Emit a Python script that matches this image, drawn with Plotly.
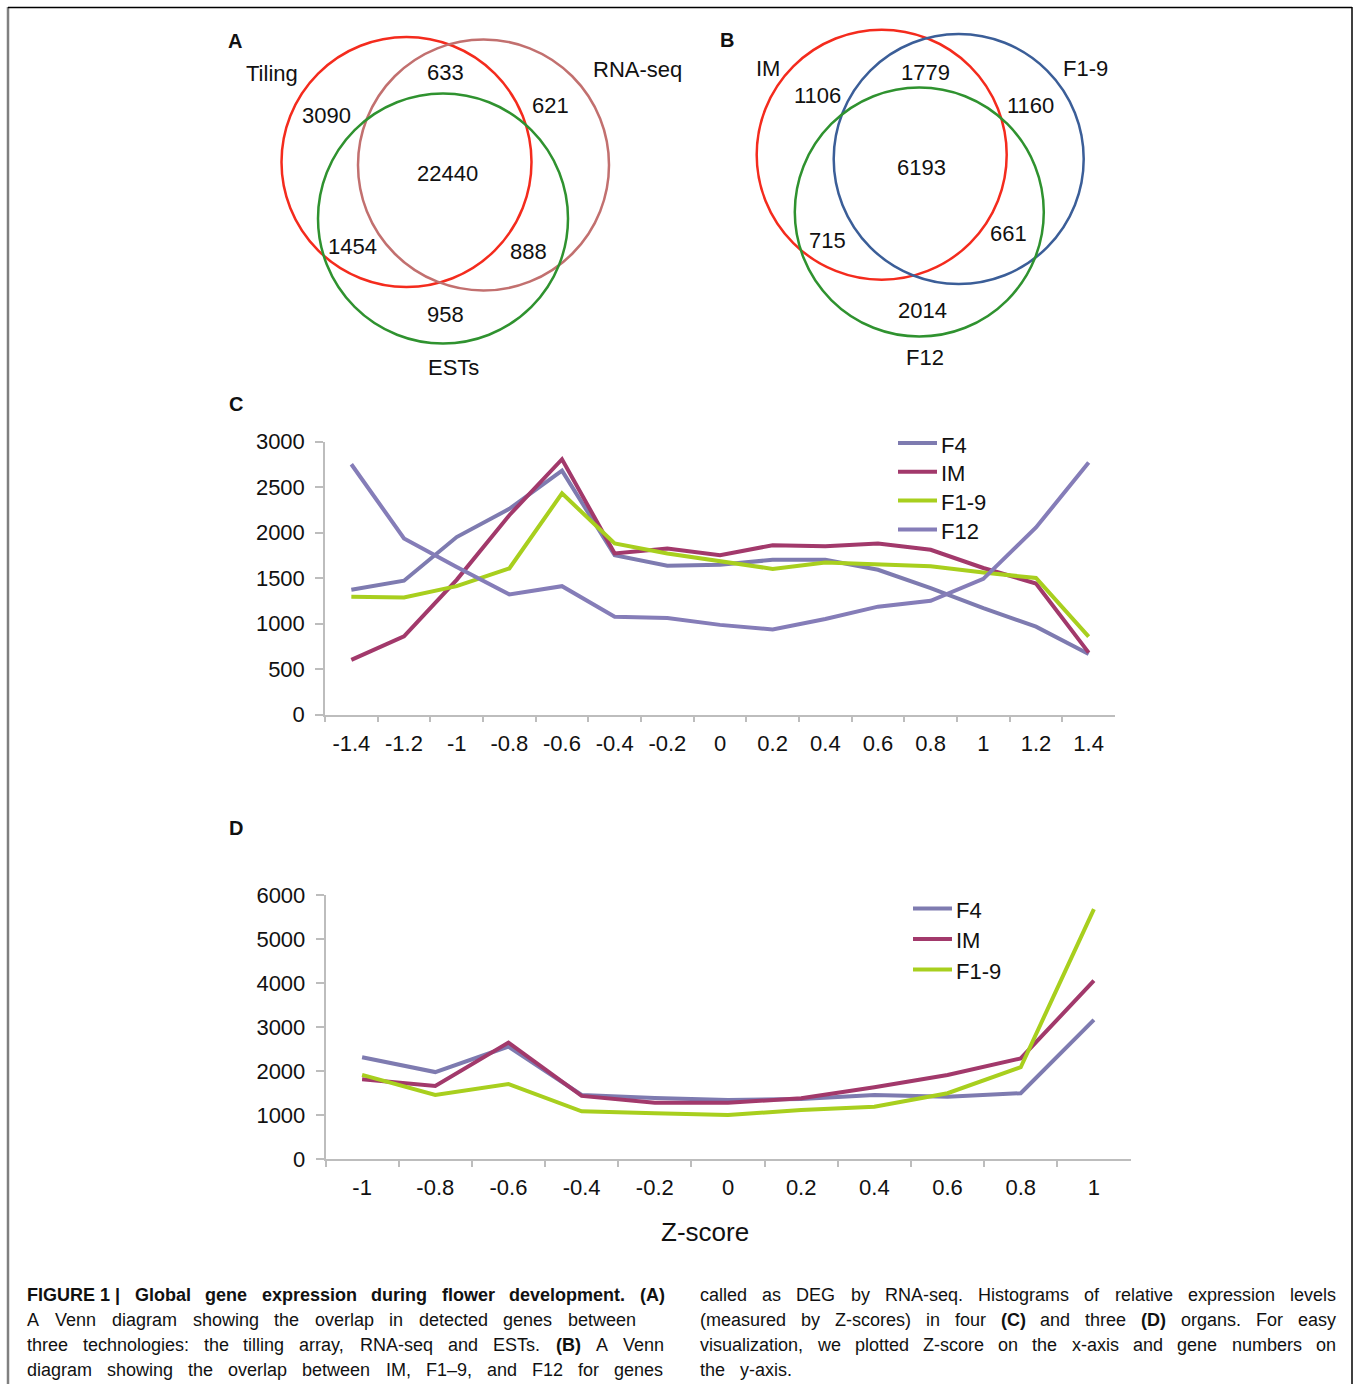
import plotly.graph_objects as go

W, H = 1356, 1384

# ---------------- data ----------------
# Panel C: gene counts per Z-score bin in four organs
z_c = ["-1.4", "-1.2", "-1", "-0.8", "-0.6", "-0.4", "-0.2", "0",
       "0.2", "0.4", "0.6", "0.8", "1", "1.2", "1.4"]
c_f4 = [1370, 1470, 1950, 2260, 2680, 1750, 1635, 1645, 1700, 1700, 1590, 1390, 1170, 965, 665]
c_im = [600, 860, 1480, 2190, 2805, 1770, 1825, 1750, 1860, 1850, 1880, 1810, 1610, 1440, 680]
c_f19 = [1295, 1285, 1410, 1605, 2430, 1880, 1770, 1680, 1600, 1670, 1650, 1630, 1560, 1500, 855]
c_f12 = [2750, 1935, 1620, 1320, 1410, 1075, 1060, 985, 935, 1050, 1185, 1250, 1490, 2055, 2770]

# Panel D: gene counts per Z-score bin in three organs
z_d = ["-1", "-0.8", "-0.6", "-0.4", "-0.2", "0", "0.2", "0.4", "0.6", "0.8", "1"]
d_f4 = [2315, 1980, 2560, 1460, 1390, 1345, 1370, 1460, 1420, 1500, 3165]
d_im = [1815, 1665, 2650, 1440, 1285, 1285, 1385, 1635, 1915, 2290, 4055]
d_f19 = [1915, 1460, 1710, 1090, 1045, 1005, 1120, 1195, 1500, 2090, 5680]

c_ticks_y = [0, 500, 1000, 1500, 2000, 2500, 3000]
d_ticks_y = [0, 1000, 2000, 3000, 4000, 5000, 6000]

# Venn A: Tiling / RNA-seq / ESTs
venn_a_sets = ["Tiling", "RNA-seq", "ESTs"]
# regions: T only, T&R, R only, all, T&E, R&E, E only
venn_a_counts = [3090, 633, 621, 22440, 1454, 888, 958]

# Venn B: IM / F1-9 / F12
venn_b_sets = ["IM", "F1-9", "F12"]
# regions: IM only, IM&F1-9, F1-9 only, all, IM&F12, F1-9&F12, F12 only
venn_b_counts = [1106, 1779, 1160, 6193, 715, 661, 2014]

caption_left = [
    "FIGURE 1 | Global gene expression during flower development. (A)",
    "A Venn diagram showing the overlap in detected genes between",
    "three technologies: the tilling array, RNA-seq and ESTs. (B) A Venn",
    "diagram showing the overlap between IM, F1–9, and F12 for genes",
]
caption_right = [
    "called as DEG by RNA-seq. Histograms of relative expression levels",
    "(measured by Z-scores) in four (C) and three (D) organs. For easy",
    "visualization, we plotted Z-score on the x-axis and gene numbers on",
    "the  y-axis.",
]

# ---------------- styling ----------------
COL_F4 = "#7E7BB0"
COL_IM = "#A2396B"
COL_F19 = "#A8CF1E"
COL_F12 = "#857DB8"
AX = "#BDBDBD"
FONT = "Liberation Sans, Arial, sans-serif"
TXT = "#111111"


def px(x):
    return x / W


def py(y):
    return 1 - y / H


fig = go.Figure()

series_c = [("F4", c_f4, COL_F4), ("IM", c_im, COL_IM),
            ("F1-9", c_f19, COL_F19), ("F12", c_f12, COL_F12)]
series_d = [("F4", d_f4, COL_F4), ("IM", d_im, COL_IM), ("F1-9", d_f19, COL_F19)]

for name, vals, col in series_c:
    fig.add_trace(go.Scatter(x=z_c, y=vals, mode="lines", name=name,
                             line=dict(color=col, width=4),
                             xaxis="x", yaxis="y", showlegend=False,
                             hoverinfo="skip"))

for name, vals, col in series_d:
    fig.add_trace(go.Scatter(x=z_d, y=vals, mode="lines", name=name,
                             line=dict(color=col, width=4),
                             xaxis="x2", yaxis="y2", showlegend=False,
                             hoverinfo="skip"))


def xax(domain, n):
    return dict(domain=domain, type="category", tickson="boundaries",
                range=[-0.5, n - 0.5], showline=True, linecolor=AX,
                linewidth=1.5, ticks="outside", ticklen=6, tickwidth=1.5,
                tickcolor=AX, showgrid=False, zeroline=False,
                tickfont=dict(family=FONT, size=22, color=TXT),
                ticklabelstandoff=8, fixedrange=True)


def yax(domain, rng, vals):
    return dict(domain=domain, range=rng, tickvals=vals, showline=True,
                linecolor=AX, linewidth=1.5, ticks="outside", ticklen=8,
                tickwidth=1.5, tickcolor=AX, showgrid=False, zeroline=False,
                tickfont=dict(family=FONT, size=22, color=TXT),
                ticklabelstandoff=6, fixedrange=True)


fig.update_layout(
    width=W, height=H, autosize=False,
    margin=dict(l=0, r=0, t=0, b=0, autoexpand=False),
    paper_bgcolor="white", plot_bgcolor="white",
    font=dict(family=FONT, color=TXT),
    xaxis=dict(xax([px(325), px(1115)], len(z_c)), anchor="y"),
    yaxis=dict(yax([py(714.5), py(441.5)], [0, 3000], c_ticks_y), anchor="x"),
    xaxis2=dict(xax([px(325.5), px(1130.5)], len(z_d)), anchor="y2"),
    yaxis2=dict(yax([py(1159.3), py(895)], [0, 6000], d_ticks_y), anchor="x2"),
    showlegend=False,
)

shapes = []
annotations = []


def label(x, y, text, size=22, bold=False, anchor="center"):
    annotations.append(dict(
        x=px(x), y=py(y), xref="paper", yref="paper",
        text=f"<b>{text}</b>" if bold else text, showarrow=False,
        xanchor=anchor, yanchor="middle",
        font=dict(family=FONT, size=size, color=TXT)))


def circle(cx, cy, r, col):
    shapes.append(dict(type="circle", xref="paper", yref="paper",
                       x0=px(cx - r), x1=px(cx + r), y0=py(cy + r), y1=py(cy - r),
                       line=dict(color=col, width=2.5)))


def hline(x0, x1, y, col, width):
    shapes.append(dict(type="line", xref="paper", yref="paper",
                       x0=px(x0), x1=px(x1), y0=py(y), y1=py(y),
                       line=dict(color=col, width=width)))


def legend_block(series, x0, y0, step):
    # line swatch followed by the series name
    for i, (name, _, col) in enumerate(series):
        y = y0 + i * step
        hline(x0, x0 + 39, y, col, 4)
        label(x0 + 41, y + 2, name, size=22, anchor="left")


# outer frame
shapes.append(dict(type="line", xref="paper", yref="paper", x0=px(8), x1=px(8),
                   y0=py(7), y1=0, line=dict(color="#808080", width=2.5)))
hline(8, 1352, 7.5, "#000000", 1.5)
shapes.append(dict(type="line", xref="paper", yref="paper", x0=px(1352), x1=px(1352),
                   y0=py(7), y1=0, line=dict(color="#000000", width=1.5)))

# Venn A
circle(406.5, 162, 125, "#F42B1D")
circle(483.5, 165, 125.5, "#C2706F")
circle(443, 218.5, 125, "#2F922F")
label(235, 41, "A", size=20, bold=True)
for (x, y), t in zip([(272, 74), (637, 70), (453, 367)], venn_a_sets):
    label(x, y, t)
for (x, y), v in zip([(326, 115), (446, 72), (550, 106), (447, 173),
                      (352, 246), (528, 251), (446, 314)], venn_a_counts):
    label(x, y, str(v))

# Venn B
circle(881.7, 154.7, 125, "#F42B1D")
circle(958.7, 159, 125, "#3B5E98")
circle(919.3, 212, 124.5, "#2F922F")
label(727, 40, "B", size=20, bold=True)
for (x, y), t in zip([(768, 69), (1085, 69), (925, 357)], venn_b_sets):
    label(x, y, t)
for (x, y), v in zip([(817, 96), (925, 72), (1030, 105), (921, 167),
                      (828, 240), (1008, 233), (922, 310)], venn_b_counts):
    label(x, y, str(v))

# panel letters, legends and axis title
label(236, 404, "C", size=20, bold=True)
label(236, 828, "D", size=20, bold=True)
legend_block(series_c, 898, 443, 28.8)
legend_block(series_d, 913, 908.5, 30.5)
label(705, 1232, "Z-score", size=26)

# ---- caption: justified lines, word by word ----
REG = {' ': 278, 'a': 556, 'b': 556, 'c': 500, 'd': 556, 'e': 556, 'f': 278, 'g': 556,
       'h': 556, 'i': 222, 'j': 222, 'k': 500, 'l': 222, 'm': 833, 'n': 556, 'o': 556,
       'p': 556, 'q': 556, 'r': 333, 's': 500, 't': 278, 'u': 556, 'v': 500, 'w': 722,
       'x': 500, 'y': 500, 'z': 500, 'A': 667, 'B': 667, 'C': 722, 'D': 722, 'E': 667,
       'F': 611, 'G': 778, 'H': 722, 'I': 278, 'J': 500, 'K': 667, 'L': 556, 'M': 833,
       'N': 722, 'O': 778, 'P': 667, 'Q': 778, 'R': 722, 'S': 667, 'T': 611, 'U': 722,
       'V': 667, 'W': 944, 'X': 667, 'Y': 667, 'Z': 611, '.': 278, ',': 278, ':': 278,
       ';': 278, '-': 333, '–': 556, '(': 333, ')': 333, '|': 260}
BOLD = {' ': 278, 'a': 556, 'b': 611, 'c': 556, 'd': 611, 'e': 556, 'f': 333, 'g': 611,
        'h': 611, 'i': 278, 'j': 278, 'k': 556, 'l': 278, 'm': 889, 'n': 611, 'o': 611,
        'p': 611, 'q': 611, 'r': 389, 's': 556, 't': 333, 'u': 611, 'v': 556, 'w': 778,
        'x': 556, 'y': 556, 'z': 500, 'A': 722, 'B': 722, 'C': 722, 'D': 722, 'E': 667,
        'F': 611, 'G': 778, 'I': 278, 'L': 611, 'M': 833, 'N': 722, 'O': 778, 'P': 667,
        'R': 722, 'S': 667, 'T': 611, 'U': 722, '.': 278, '(': 333, ')': 333, '|': 280}
CAP_SIZE = 18


def text_width(s, bold):
    tbl = BOLD if bold else REG
    return sum(tbl.get(ch, 556) for ch in s) / 1000 * CAP_SIZE


def caption_line(text, x0, x1, y, all_bold=False, justify=True):
    if all_bold:
        tokens = ["FIGURE 1 |"] + text.split("FIGURE 1 | ")[1].split(" ")
    else:
        tokens = [t for t in text.split(" ") if t]
    bold = [all_bold or t in ("(A)", "(B)", "(C)", "(D)") for t in tokens]
    widths = [text_width(t, b) for t, b in zip(tokens, bold)]
    if justify and len(tokens) > 1:
        gap = (x1 - x0 - sum(widths)) / (len(tokens) - 1)
    else:
        gap = text_width("   ", False)
    x = x0
    for t, b, w in zip(tokens, bold, widths):
        label(x, y, t, size=CAP_SIZE, bold=b, anchor="left")
        x += w + gap


ys = [1295, 1320, 1345, 1370]
left_ends = [663, 634, 663, 661]
for i, line in enumerate(caption_left):
    caption_line(line, 25, left_ends[i], ys[i], all_bold=(i == 0))
for i, line in enumerate(caption_right):
    caption_line(line, 698, 1334, ys[i], justify=(i < 3))

fig.update_layout(shapes=shapes, annotations=annotations)
fig.write_html("out.html")
